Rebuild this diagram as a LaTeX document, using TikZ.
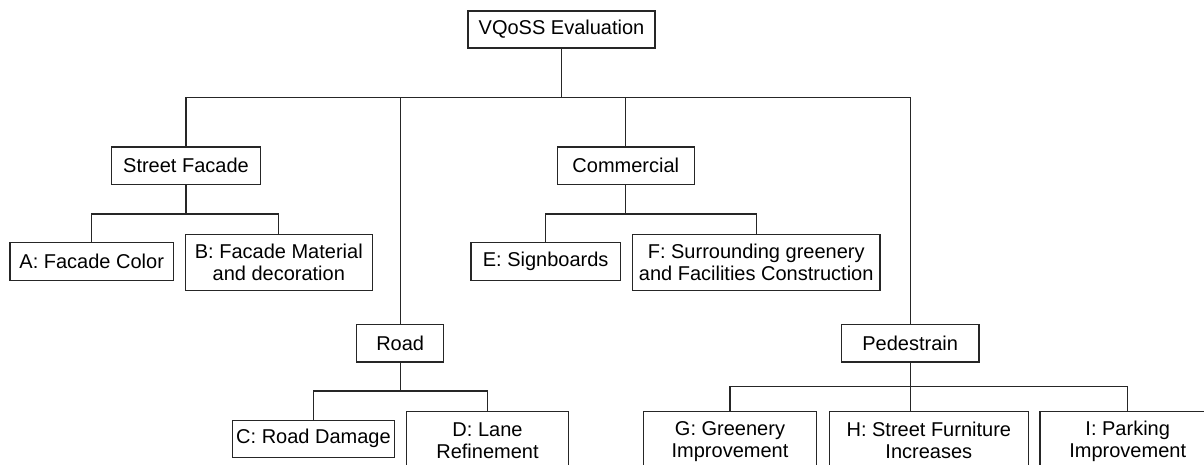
\documentclass[tikz,border=0pt]{standalone}
\usepackage{fontspec}
\setmainfont{Liberation Sans}
\begin{document}
\begin{tikzpicture}[x=1pt,y=-1pt,
  box/.style={draw=black!85, line width=1.2pt, inner sep=0pt, align=center,
    font=\fontsize{20}{22}\selectfont, fill=white},
  conn/.style={draw=black!85, line width=1.2pt}]
\useasboundingbox (0,0) rectangle (1204,464);
% level 0
\node[box, minimum width=187, minimum height=37] (root) at (561.5,29.5) {VQoSS Evaluation};
% level 1
\node[box, minimum width=149, minimum height=37.5] (sf) at (186,165.7) {Street Facade};
\node[box, minimum width=137, minimum height=37.5] (com) at (625.8,165.7) {Commercial};
\node[box, minimum width=87, minimum height=37.5] (road) at (400.2,343.2) {Road};
\node[box, minimum width=137.7, minimum height=37.5] (ped) at (910.2,343.2) {Pedestrain};
% level 2
\node[box, minimum width=163.3, minimum height=38] (A) at (91.7,261.7) {A: Facade Color};
\node[box, minimum width=187, minimum height=56] (B) at (278.8,262.7) {B: Facade Material\\and decoration};
\node[box, minimum width=149.4, minimum height=38] (E) at (545.7,261.5) {E: Signboards};
\node[box, minimum width=247.7, minimum height=56] (F) at (756.2,262.2) {F: Surrounding greenery\\and Facilities Construction};
\node[box, minimum width=161.6, minimum height=37] (C) at (313.5,438.8) {C: Road Damage};
\node[box, minimum width=161.6, minimum height=58, anchor=north] (D) at (487.5,410.7) {D: Lane\\Refinement};
\node[box, minimum width=173.4, minimum height=60, anchor=north] (G) at (730,410.7) {G: Greenery\\Improvement};
\node[box, minimum width=199, minimum height=58, anchor=north] (H) at (928.8,410.7) {H: Street Furniture\\Increases};
\node[box, minimum width=175.4, minimum height=60, anchor=north] (I) at (1127.7,411) {I: Parking\\Improvement};
% connectors
\coordinate (b0) at (561.5,97.7);
\coordinate (s1) at (186,214);
\coordinate (c1) at (625.8,214);
\coordinate (r1) at (400.2,391);
\coordinate (p1) at (910.2,386.7);
\draw[conn] (root.south) -- (b0);
\draw[conn] (sf.north) |- (ped.north |- b0) -- (ped.north);
\draw[conn] (road.north) -- (road.north |- b0);
\draw[conn] (com.north) -- (com.north |- b0);
\draw[conn] (sf.south) -- (s1);
\draw[conn] (A.north) |- (B.north |- s1) -- (B.north);
\draw[conn] (com.south) -- (c1);
\draw[conn] (E.north) |- (F.north |- c1) -- (F.north);
\draw[conn] (road.south) -- (r1);
\draw[conn] (C.north) |- (D.north |- r1) -- (D.north);
\draw[conn] (ped.south) -- (ped.south |- H.north);
\draw[conn] (G.north) |- (I.north |- p1) -- (I.north);
\end{tikzpicture}
\end{document}
